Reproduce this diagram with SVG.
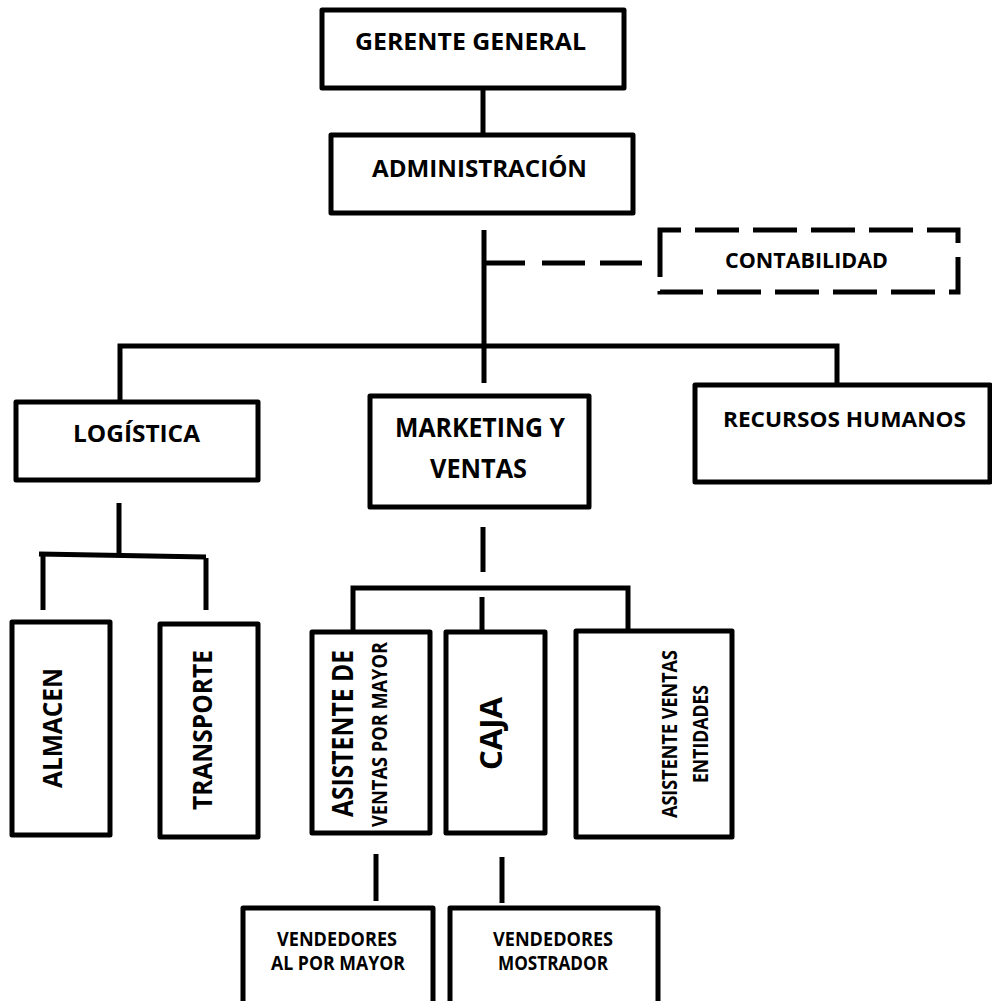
<svg xmlns="http://www.w3.org/2000/svg" width="992" height="1001" viewBox="0 0 992 1001">
<style>
.box{fill:#fff;stroke:#000;stroke-width:5;stroke-linejoin:round}
.dbox{fill:#fff;stroke:#000;stroke-width:5;stroke-dasharray:44 14}
.ln{fill:none;stroke:#000;stroke-width:5}
.t{font-family:"Open Sans","Liberation Sans",sans-serif;font-weight:700;fill:#000}
</style>
<rect width="992" height="1001" fill="#fff"/>
<g id="connectors">
<line class="ln" x1="483" y1="88" x2="483" y2="135"/>
<line class="ln" x1="484" y1="230" x2="484" y2="383"/>
<path class="ln" d="M485,263 H660" stroke-dasharray="40 17 43 15 42 20"/>
<path class="ln" d="M120,402 V346 H837 V385"/>
<line class="ln" x1="119" y1="503" x2="119" y2="555"/>
<line class="ln" x1="39" y1="554" x2="206" y2="557"/>
<line class="ln" x1="43" y1="556" x2="43" y2="610"/>
<line class="ln" x1="206" y1="558" x2="206" y2="610"/>
<line class="ln" x1="483" y1="527" x2="483" y2="572"/>
<path class="ln" d="M353,632 V588 H628 V631"/>
<line class="ln" x1="482" y1="597" x2="482" y2="632"/>
<line class="ln" x1="376" y1="854" x2="376" y2="901"/>
<line class="ln" x1="502" y1="857" x2="502" y2="903"/>
</g>
<g id="gerente">
<rect class="box" x="322" y="10" width="302" height="78"/>
<text class="t" x="355" y="50" font-size="24" textLength="231" lengthAdjust="spacingAndGlyphs">GERENTE GENERAL</text>
</g>
<g id="administracion">
<rect class="box" x="331" y="135" width="302" height="78"/>
<text class="t" x="372" y="177" font-size="24" textLength="215" lengthAdjust="spacingAndGlyphs">ADMINISTRACIÓN</text>
</g>
<g id="contabilidad">
<path class="dbox" d="M660,253 V230 H958 V292 H660 Z"/>
<text class="t" x="725" y="268" font-size="21" textLength="163" lengthAdjust="spacingAndGlyphs">CONTABILIDAD</text>
</g>
<g id="logistica">
<rect class="box" x="16" y="402" width="242" height="78"/>
<text class="t" x="73" y="442" font-size="24" textLength="127" lengthAdjust="spacingAndGlyphs">LOGÍSTICA</text>
</g>
<g id="marketing">
<rect class="box" x="370" y="396" width="219" height="111"/>
<text class="t" x="395" y="437" font-size="26" textLength="170" lengthAdjust="spacingAndGlyphs">MARKETING Y</text>
<text class="t" x="430" y="478" font-size="26" textLength="97" lengthAdjust="spacingAndGlyphs">VENTAS</text>
</g>
<g id="rrhh">
<rect class="box" x="695" y="385" width="295" height="97"/>
<text class="t" x="723" y="427" font-size="21" textLength="243" lengthAdjust="spacingAndGlyphs">RECURSOS HUMANOS</text>
</g>
<g id="almacen">
<rect class="box" x="12" y="622" width="98" height="213"/>
<text class="t" transform="translate(62,788) rotate(-90)" font-size="27" textLength="120" lengthAdjust="spacingAndGlyphs">ALMACEN</text>
</g>
<g id="transporte">
<rect class="box" x="160" y="624" width="98" height="213"/>
<text class="t" transform="translate(212,810) rotate(-90)" font-size="27" textLength="160" lengthAdjust="spacingAndGlyphs">TRANSPORTE</text>
</g>
<g id="asistente-mayor">
<rect class="box" x="312" y="632" width="118" height="201"/>
<text class="t" transform="translate(353,817) rotate(-90)" font-size="29" textLength="167" lengthAdjust="spacingAndGlyphs">ASISTENTE DE</text>
<text class="t" transform="translate(387,827) rotate(-90)" font-size="21" textLength="185" lengthAdjust="spacingAndGlyphs">VENTAS POR MAYOR</text>
</g>
<g id="caja">
<rect class="box" x="446" y="632" width="99" height="201"/>
<text class="t" transform="translate(502,770) rotate(-90)" font-size="31" textLength="73" lengthAdjust="spacingAndGlyphs">CAJA</text>
</g>
<g id="asistente-entidades">
<rect class="box" x="576" y="631" width="156" height="206"/>
<text class="t" transform="translate(677,818) rotate(-90)" font-size="21" textLength="168" lengthAdjust="spacingAndGlyphs">ASISTENTE VENTAS</text>
<text class="t" transform="translate(708,783) rotate(-90)" font-size="21" textLength="98" lengthAdjust="spacingAndGlyphs">ENTIDADES</text>
</g>
<g id="vendedores-mayor">
<rect class="box" x="243" y="908" width="190" height="110"/>
<text class="t" x="277" y="946" font-size="19" textLength="120" lengthAdjust="spacingAndGlyphs">VENDEDORES</text>
<text class="t" x="271" y="970" font-size="19" textLength="134" lengthAdjust="spacingAndGlyphs">AL POR MAYOR</text>
</g>
<g id="vendedores-mostrador">
<rect class="box" x="450" y="908" width="208" height="110"/>
<text class="t" x="493" y="946" font-size="19" textLength="120" lengthAdjust="spacingAndGlyphs">VENDEDORES</text>
<text class="t" x="498" y="970" font-size="19" textLength="110" lengthAdjust="spacingAndGlyphs">MOSTRADOR</text>
</g>
</svg>
